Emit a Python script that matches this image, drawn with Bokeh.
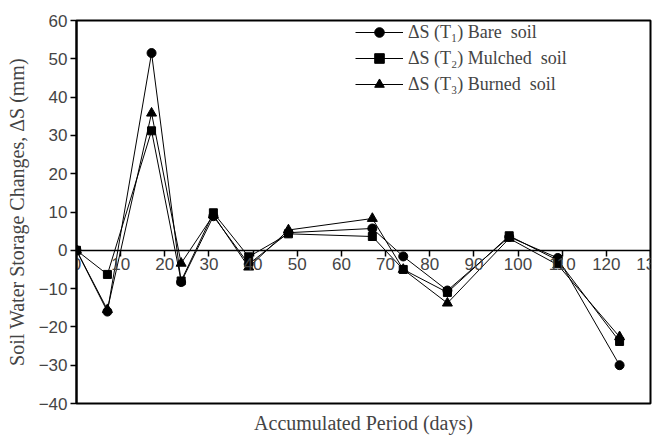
from bokeh.plotting import figure
from bokeh.models import Range1d, FixedTicker, Legend, LegendItem, Title
from bokeh.embed import file_html
from bokeh.resources import INLINE

days = [0, 7, 17, 23.7, 31, 39, 48, 67, 74, 84, 98, 109, 123]
bare = [0, -16, 51.5, -8.3, 8.9, -3.6, 4.6, 5.7, -1.6, -10.5, 3.5, -2, -30]
mulched = [0, -6.3, 31.2, -8, 9.8, -1.7, 4.3, 3.6, -5, -11, 3.8, -2.6, -23.8]
burned = [0, -15.5, 35.8, -3.4, 9.2, -4.4, 5.3, 8.3, -5, -13.8, 3.1, -3.8, -22.6]

x_ticks = list(range(0, 131, 10))
y_ticks = list(range(-40, 61, 10))

labels = ["\u0394S (T\u2081) Bare  soil", "\u0394S (T\u2082) Mulched  soil", "\u0394S (T\u2083) Burned  soil"]

p = figure(width=670, height=439, output_backend="svg", toolbar_location=None,
           x_range=Range1d(0, 130), y_range=Range1d(-40, 60),
           min_border_left=76, min_border_right=20, min_border_top=20, min_border_bottom=36)
p.grid.visible = False
p.outline_line_color = "black"
p.outline_line_width = 2
p.background_fill_color = "white"
p.border_fill_color = "white"

# x axis drawn along y = 0
xa = p.xaxis[0]
xa.fixed_location = 0
xa.ticker = FixedTicker(ticks=x_ticks)
xa.major_tick_out = 6
xa.major_tick_in = 0
xa.minor_tick_line_color = None
xa.axis_line_width = 1.5
xa.major_tick_line_width = 1.5
xa.major_label_text_font = "Liberation Sans"
xa.major_label_text_font_size = "17px"
xa.major_label_standoff = 2

ya = p.yaxis[0]
ya.ticker = FixedTicker(ticks=y_ticks)
ya.major_tick_out = 6
ya.major_tick_in = 0
ya.minor_tick_line_color = None
ya.axis_line_width = 2
ya.major_tick_line_width = 1.5
ya.major_label_text_font = "Liberation Sans"
ya.major_label_text_font_size = "17px"
ya.major_label_standoff = 3
ya.axis_label = "Soil Water Storage Changes, \u0394S (mm)"
ya.axis_label_text_font = "Liberation Serif"
ya.axis_label_text_font_size = "20px"
ya.axis_label_text_font_style = "normal"
ya.axis_label_standoff = 8

series = [(bare, "circle", 9), (mulched, "square", 8), (burned, "triangle", 10)]
items = []
for (vals, marker, size), lab in zip(series, labels):
    ln = p.line(days, vals, line_color="black", line_width=1)
    sc = p.scatter(days, vals, marker=marker, size=size, fill_color="black", line_color="black")
    items.append(LegendItem(label=lab, renderers=[ln, sc]))

leg = Legend(items=items, location=(279, 307), border_line_alpha=0, background_fill_alpha=0,
             glyph_width=48, glyph_height=24, label_text_font="Liberation Serif",
             label_text_font_size="18px", spacing=2, padding=0, margin=0, label_standoff=5,
             label_height=24)
p.add_layout(leg)

xt = Title(text="Accumulated Period (days)", align="center", text_font="Liberation Serif",
           text_font_size="20px", text_font_style="normal", standoff=12)
p.add_layout(xt, "below")

open("out.html", "w").write(file_html(p, INLINE))
